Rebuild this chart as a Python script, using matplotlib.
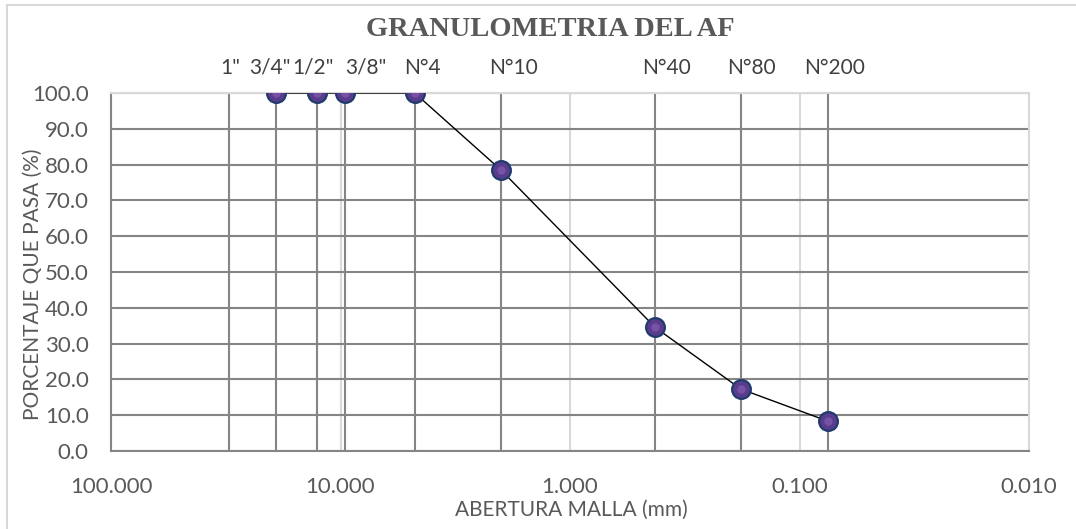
import matplotlib
matplotlib.use("Agg")
import matplotlib.pyplot as plt
from matplotlib.lines import Line2D
from matplotlib.ticker import FixedLocator, FuncFormatter, NullLocator
import matplotlib.transforms as mtransforms

# ---- data ----
sieve_labels = ['1"', '3/4"', '1/2"', '3/8"', 'N°4', 'N°10', 'N°40', 'N°80', 'N°200']
sieve_openings = [30.5, 19.05, 12.7, 9.525, 4.75, 2.0, 0.425, 0.18, 0.075]
point_openings = [19.05, 12.7, 9.525, 4.75, 2.0, 0.425, 0.18, 0.075]
percent_passing = [100.0, 100.0, 100.0, 100.0, 78.5, 34.5, 17.3, 8.3]
x_ticks = [100, 10, 1, 0.1, 0.01]
y_ticks = [0, 10, 20, 30, 40, 50, 60, 70, 80, 90, 100]
title = "GRANULOMETRIA DEL AF"
xlabel = "ABERTURA MALLA (mm)"
ylabel = "PORCENTAJE QUE PASA (%)"

# label offsets in pixels (layout only)
label_dx = [1, -6, -4, 20, 8, 13, 11, 11, 6]

W, H = 1076, 529
fig = plt.figure(figsize=(W / 100, H / 100), dpi=100)
plt.rcParams['font.family'] = ['Lato', 'DejaVu Sans']

ax = fig.add_axes([111 / W, 1 - 451 / H, (1029 - 111) / W, (451 - 93) / H])
ax.set_xscale('log')
ax.set_xlim(100, 0.01)
ax.set_ylim(0, 100)

grid_dark = '#858585'
grid_light = '#D9D9D9'
txt = '#595959'

# horizontal gridlines
ax.yaxis.set_major_locator(FixedLocator(y_ticks))
ax.grid(axis='y', color=grid_dark, lw=1.5, zorder=1)
# light major vertical gridlines
ax.xaxis.set_major_locator(FixedLocator(x_ticks))
ax.xaxis.set_minor_locator(NullLocator())
ax.grid(axis='x', which='major', color=grid_light, lw=1.5, zorder=1)

# dark vertical lines at sieve openings
for xo in sieve_openings:
    ax.axvline(xo, color=grid_dark, lw=1.5, zorder=2)

# data line + markers
ax.plot(point_openings, percent_passing, color='black', lw=1.0, zorder=3,
        solid_capstyle='butt')
ax.plot(point_openings, percent_passing, ls='none', marker='o', ms=13.5,
        mfc='#5A3C8C', mec='#1F3B6E', mew=1.6, zorder=4)
ax.plot(point_openings, percent_passing, ls='none', marker='o', ms=6,
        mfc='#8A63B8', mec='none', alpha=0.6, zorder=5)

ax.xaxis.set_major_formatter(FuncFormatter(lambda v, p: f"{v:.3f}"))
ax.yaxis.set_major_formatter(FuncFormatter(lambda v, p: f"{v:.1f}"))
ax.tick_params(axis='both', length=0, labelsize=16, labelcolor=txt)
ax.tick_params(axis='x', pad=19)
ax.tick_params(axis='y', pad=16)

for s in ['top', 'right']:
    ax.spines[s].set_color(grid_light)
    ax.spines[s].set_linewidth(1.5)
ax.spines['left'].set_color(grid_dark)
ax.spines['left'].set_linewidth(1.5)
ax.spines['bottom'].set_color(grid_dark)
ax.spines['bottom'].set_linewidth(1.5)
ax.set_axisbelow(True)

fig.text(571 / W, 1 - 510 / H, xlabel, ha='center', va='center',
         fontsize=15, color=txt)
fig.text(33 / W, 1 - 284 / H, ylabel, ha='center', va='center',
         rotation=90, fontsize=15, color=txt)

# sieve labels above the plot
for lab, xo, dx in zip(sieve_labels, sieve_openings, label_dx):
    tr = mtransforms.blended_transform_factory(ax.transData, ax.transAxes) + \
        mtransforms.ScaledTranslation(dx / 100, 0, fig.dpi_scale_trans)
    ax.text(xo, 1 + 25 / 358, lab, transform=tr, ha='center', va='center',
            fontsize=15, color='#404040', clip_on=False)

fig.text(550 / W, 1 - 29 / H, title, ha='center', va='center',
         fontsize=20.5, fontweight='bold', family='Liberation Serif', color=txt)

# chart border (left and top visible)
fig.add_artist(Line2D([7 / W, 7 / W], [0, 1 - 5 / H], transform=fig.transFigure,
                      color=grid_light, lw=1.5))
fig.add_artist(Line2D([7 / W, 1], [1 - 5 / H, 1 - 5 / H], transform=fig.transFigure,
                      color=grid_light, lw=1.5))

fig.savefig('out.png', dpi=100)
